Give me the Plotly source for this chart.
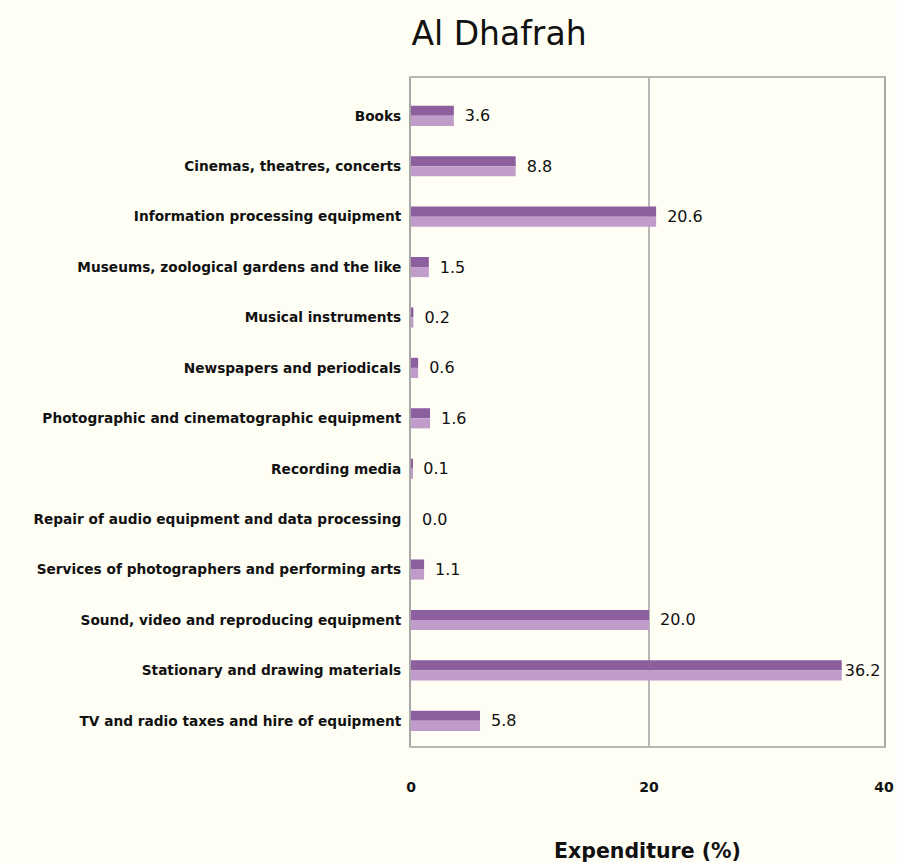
import plotly.graph_objects as go

# categories and values
categories = [
    "Books",
    "Cinemas, theatres, concerts",
    "Information processing equipment",
    "Museums, zoological gardens and the like",
    "Musical instruments",
    "Newspapers and periodicals",
    "Photographic and cinematographic equipment",
    "Recording media",
    "Repair of audio equipment and data processing",
    "Services of photographers and performing arts",
    "Sound, video and reproducing equipment",
    "Stationary and drawing materials",
    "TV and radio taxes and hire of equipment",
]
values = [3.6, 8.8, 20.6, 1.5, 0.2, 0.6, 1.6, 0.1, 0.0, 1.1, 20.0, 36.2, 5.8]
x_tick_labels = ["0", "20", "40"]

bg = "#fefef5"
font_family = "'DejaVu Sans', sans-serif"
x_max = 39.75  # the frame stops just short of 40 in the original

# labels near the right edge get squeezed against the bar, like the original
labels = [("" if v > 34 else "\u2002") + f"{v:.1f}" for v in values]

fig = go.Figure()
# dark upper half of each bar
fig.add_trace(go.Bar(y=categories, x=values, orientation="h", width=0.2, offset=-0.2,
                     marker=dict(color="#8e5f9f", line=dict(width=0)), hoverinfo="skip"))
# light lower half
fig.add_trace(go.Bar(y=categories, x=values, orientation="h", width=0.2, offset=0,
                     marker=dict(color="#c09cca", line=dict(width=0)), hoverinfo="skip"))
# invisible full bar carrying the value labels
fig.add_trace(go.Bar(y=categories, x=values, orientation="h", width=0.4, offset=-0.2,
                     marker=dict(color="rgba(0,0,0,0)", line=dict(width=0)),
                     text=labels, textposition="outside",
                     textfont=dict(size=16, color="#111111", family=font_family),
                     cliponaxis=False, hoverinfo="skip"))

fig.update_layout(
    barmode="overlay",
    showlegend=False,
    width=897, height=863,
    paper_bgcolor=bg, plot_bgcolor=bg,
    margin=dict(l=411, r=13, t=78, b=117),
    font=dict(family=font_family, color="#111111"),
    title=dict(text="Al Dhafrah", x=499/897, xanchor="center", xref="container",
               y=1-33/863, yanchor="middle", yref="container",
               font=dict(size=33, color="#111111", family=font_family)),
    uniformtext=dict(mode=False),
)
fig.update_xaxes(range=[0, x_max], tickvals=[0, 20, x_max], ticktext=x_tick_labels,
                 showgrid=True, gridcolor="#b8b8b8", gridwidth=1.5,
                 zeroline=False, showline=True, linecolor="#b8b8b8", linewidth=1.5, mirror=True,
                 ticks="", ticklabelstandoff=27, automargin=False,
                 tickfont=dict(size=14, family=font_family, weight="bold", color="#111111"),
                 title=dict(text="Expenditure (%)", standoff=52,
                            font=dict(size=20.5, family=font_family, weight="bold", color="#111111")))
fig.update_yaxes(range=[12.5, -0.75], showgrid=False, showline=True, linecolor="#a8a8a8", linewidth=2,
                 mirror=True, ticks="", ticklabelstandoff=5, automargin=False,
                 tickfont=dict(size=13.7, family=font_family, weight="bold", color="#111111"))

# drop the default page margin so the figure sits at the window's top-left
fig.write_html("out.html", config={"displayModeBar": False},
               post_script="document.body.style.margin='0';")
